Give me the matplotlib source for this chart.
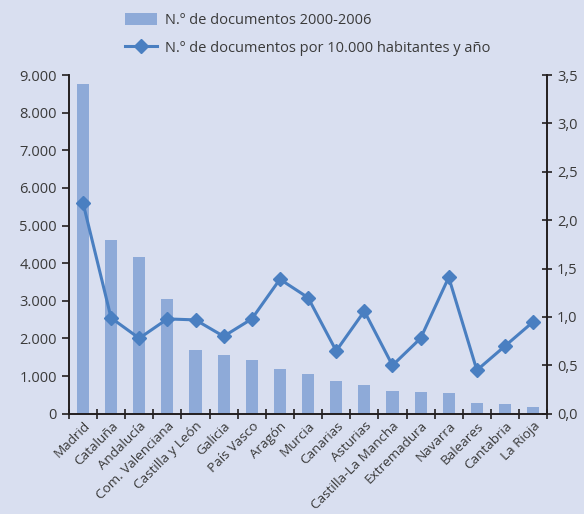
import matplotlib
matplotlib.use("Agg")
import matplotlib.pyplot as plt
from matplotlib.ticker import FuncFormatter, MultipleLocator
from matplotlib.lines import Line2D
from matplotlib.patches import Patch
import numpy as np

regions = ["Madrid", "Cataluña", "Andalucía", "Com. Valenciana", "Castilla y León",
           "Galicia", "País Vasco", "Aragón", "Murcia", "Canarias", "Asturias",
           "Castilla-La Mancha", "Extremadura", "Navarra", "Baleares", "Cantabria", "La Rioja"]
documentos = [8770, 4620, 4170, 3050, 1700, 1570, 1430, 1190, 1060, 880, 770,
              610, 585, 560, 290, 265, 185]
por_habitante = [2.18, 0.99, 0.78, 0.98, 0.97, 0.80, 0.98, 1.39, 1.20, 0.65, 1.06,
                 0.50, 0.78, 1.41, 0.45, 0.70, 0.95]

BG = "#d9dff0"
BAR = "#8eaad8"
LINE = "#4a7fc1"
TXT = "#3a3a3a"
AX = "#231f20"

plt.rcParams["font.family"] = ["Open Sans", "DejaVu Sans"]

fig = plt.figure(figsize=(5.84, 5.14), dpi=100, facecolor=BG)
ax = fig.add_axes([0.118, 0.195, 0.819, 0.659])
ax.set_facecolor(BG)
ax2 = ax.twinx()

x = np.arange(len(regions))
ax.bar(x, documentos, width=0.43, color=BAR, zorder=2)
ax2.plot(x, por_habitante, color=LINE, linewidth=2.2, marker="D", markersize=7.5, zorder=3)

ax.set_xlim(-0.5, len(regions) - 0.5)
ax.set_ylim(0, 9000)
ax2.set_ylim(0, 3.5)
ax.yaxis.set_major_locator(MultipleLocator(1000))
ax2.yaxis.set_major_locator(MultipleLocator(0.5))
ax.yaxis.set_major_formatter(FuncFormatter(lambda v, p: f"{int(v):,}".replace(",", ".")))
ax2.yaxis.set_major_formatter(FuncFormatter(lambda v, p: f"{v:.1f}".replace(".", ",")))

ax.set_xticks(np.arange(-0.5, len(regions) + 0.5, 1.0))
ax.set_xticklabels([])
ax.set_xticks(x, minor=True)
ax.set_xticklabels(regions, minor=True, rotation=45, ha="right", rotation_mode="anchor",
                   fontsize=9.7, color=TXT)
ax.tick_params(axis="x", which="minor", length=0, pad=4)
ax.tick_params(axis="x", which="major", direction="inout", length=7, color=AX, width=1.2)
ax.tick_params(axis="y", direction="out", length=5, color=AX, width=1.2,
               labelsize=10.5, labelcolor=TXT)
ax2.tick_params(axis="y", direction="inout", length=7, color=AX, width=1.2,
                labelsize=10.5, labelcolor=TXT)

for a in (ax, ax2):
    a.spines["top"].set_visible(False)
    for s in ("left", "right", "bottom"):
        a.spines[s].set_color(AX)
        a.spines[s].set_linewidth(1.2)

handles = [Patch(facecolor=BAR, edgecolor="none"),
           Line2D([0], [0], color=LINE, linewidth=2.2, marker="D", markersize=7)]
labels = ["N.º de documentos 2000-2006", "N.º de documentos por 10.000 habitantes y año"]
fig.legend(handles, labels, loc="upper left", bbox_to_anchor=(0.192, 1.0), frameon=False,
           fontsize=10.5, labelcolor=TXT, handlelength=2.2, handleheight=0.8,
           labelspacing=0.85, handletextpad=0.55)

fig.savefig("out.png", dpi=100, facecolor=BG)
